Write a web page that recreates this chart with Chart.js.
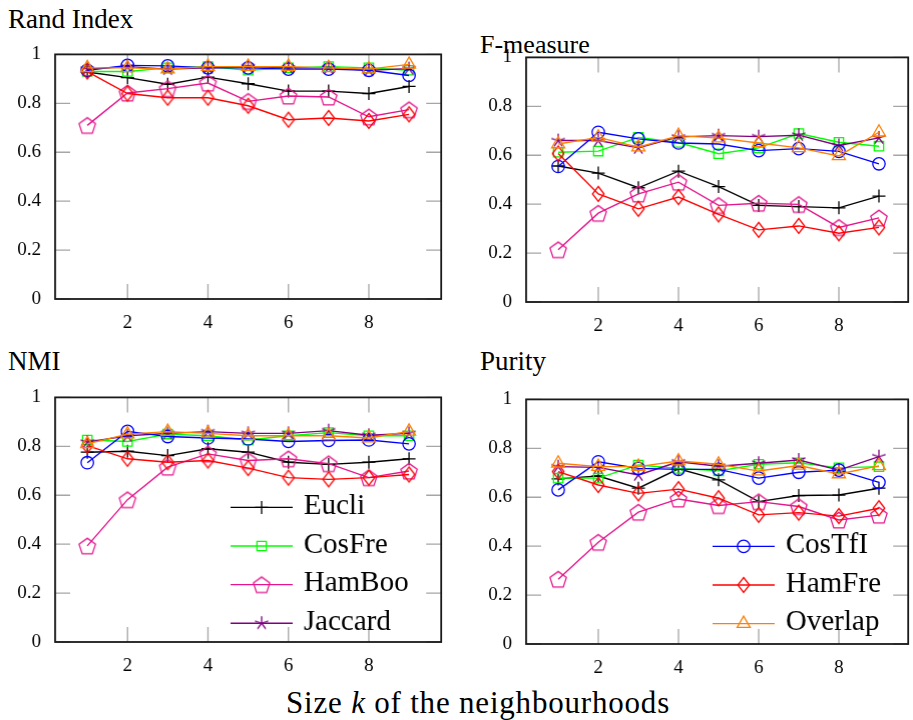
<!DOCTYPE html>
<html>
<head>
<meta charset="utf-8">
<script src="https://cdn.jsdelivr.net/npm/chart.js@4.4.0/dist/chart.umd.min.js"></script>
<style>
  html, body { margin: 0; padding: 0; background: #fff; width: 913px; height: 720px; overflow: hidden; position: relative; }
  canvas { position: absolute; }
  .lbl { position: absolute; font-family: 'Liberation Serif', serif; color: #000; line-height: 1; white-space: nowrap; }
</style>
</head>
<body>
<div class="lbl" style="left:8px; top:6px; font-size:27px">Rand Index</div>
<div class="lbl" style="left:480px; top:32px; font-size:26px">F-measure</div>
<div class="lbl" style="left:8px; top:348px; font-size:27px">NMI</div>
<div class="lbl" style="left:480px; top:348px; font-size:27px">Purity</div>
<div class="lbl" style="left:0; width:956px; text-align:center; top:687px; font-size:31px; letter-spacing:0.8px">Size <i>k</i> of the neighbourhoods</div>

<script>
// neighbourhood sizes and axis ticks
const kValues = [1, 2, 3, 4, 5, 6, 7, 8, 9];
const xTicks = [2, 4, 6, 8];
const yTicks = [0, 0.2, 0.4, 0.6, 0.8, 1];

const seriesNames = ['Eucli', 'CosFre', 'HamBoo', 'Jaccard', 'CosTfI', 'HamFre', 'Overlap'];
const seriesColors = ['#000000', '#00ff00', '#e4168c', '#800080', '#0000ff', '#ff0000', '#ff8000'];

// rows follow seriesNames
const randIndex = [
  [0.928, 0.905, 0.878, 0.907, 0.880, 0.850, 0.850, 0.840, 0.869],
  [0.930, 0.930, 0.945, 0.950, 0.935, 0.945, 0.950, 0.945, 0.935],
  [0.710, 0.842, 0.860, 0.883, 0.808, 0.830, 0.826, 0.745, 0.774],
  [0.940, 0.950, 0.940, 0.945, 0.950, 0.945, 0.945, 0.935, 0.942],
  [0.935, 0.955, 0.953, 0.945, 0.945, 0.940, 0.940, 0.935, 0.914],
  [0.930, 0.840, 0.823, 0.823, 0.790, 0.733, 0.740, 0.728, 0.755],
  [0.945, 0.945, 0.940, 0.950, 0.950, 0.950, 0.945, 0.940, 0.959]
];
const fMeasure = [
  [0.556, 0.527, 0.467, 0.535, 0.472, 0.395, 0.390, 0.385, 0.433],
  [0.612, 0.617, 0.673, 0.652, 0.606, 0.630, 0.689, 0.653, 0.637],
  [0.214, 0.363, 0.442, 0.490, 0.395, 0.404, 0.399, 0.305, 0.344],
  [0.660, 0.660, 0.630, 0.675, 0.680, 0.676, 0.682, 0.640, 0.671],
  [0.554, 0.694, 0.667, 0.650, 0.646, 0.619, 0.627, 0.616, 0.565],
  [0.607, 0.442, 0.381, 0.429, 0.358, 0.295, 0.311, 0.281, 0.305],
  [0.646, 0.673, 0.633, 0.680, 0.670, 0.650, 0.630, 0.597, 0.694]
];
const nmi = [
  [0.776, 0.780, 0.762, 0.790, 0.776, 0.735, 0.726, 0.735, 0.749],
  [0.826, 0.820, 0.850, 0.843, 0.826, 0.843, 0.856, 0.843, 0.843],
  [0.393, 0.582, 0.715, 0.769, 0.742, 0.749, 0.729, 0.672, 0.699],
  [0.817, 0.843, 0.853, 0.860, 0.853, 0.853, 0.864, 0.845, 0.853],
  [0.733, 0.861, 0.840, 0.834, 0.830, 0.820, 0.824, 0.826, 0.810],
  [0.803, 0.749, 0.735, 0.742, 0.711, 0.672, 0.665, 0.672, 0.685],
  [0.810, 0.850, 0.860, 0.853, 0.843, 0.843, 0.843, 0.834, 0.861]
];
const purity = [
  [0.675, 0.687, 0.637, 0.716, 0.671, 0.582, 0.607, 0.609, 0.637],
  [0.678, 0.678, 0.732, 0.718, 0.708, 0.735, 0.741, 0.720, 0.725],
  [0.265, 0.416, 0.539, 0.593, 0.566, 0.582, 0.562, 0.507, 0.527],
  [0.725, 0.722, 0.691, 0.745, 0.727, 0.739, 0.752, 0.711, 0.766],
  [0.630, 0.745, 0.718, 0.714, 0.714, 0.678, 0.702, 0.711, 0.661],
  [0.705, 0.650, 0.616, 0.633, 0.596, 0.528, 0.537, 0.523, 0.555],
  [0.739, 0.725, 0.725, 0.748, 0.735, 0.707, 0.730, 0.695, 0.728]
];

const FONT = "Liberation Serif";

// custom marks that Chart.js does not have
function makeMark(size, draw) {
  const c = document.createElement('canvas');
  c.width = size; c.height = size;
  const g = c.getContext('2d');
  g.lineWidth = 1.3;
  g.lineJoin = 'miter';
  draw(g, size / 2);
  return c;
}
const pentagon = makeMark(22, (g, m) => {
  g.strokeStyle = seriesColors[2];
  g.beginPath();
  for (let i = 0; i < 5; i++) {
    const a = -Math.PI / 2 + i * 2 * Math.PI / 5;
    const px = m + 8.6 * Math.cos(a), py = m + 1 + 8.6 * Math.sin(a);
    i ? g.lineTo(px, py) : g.moveTo(px, py);
  }
  g.closePath();
  g.stroke();
});
const star = makeMark(18, (g, m) => {
  g.strokeStyle = seriesColors[3];
  g.beginPath();
  for (let i = 0; i < 5; i++) {
    const a = -Math.PI / 2 + i * 2 * Math.PI / 5;
    g.moveTo(m, m);
    g.lineTo(m + 7 * Math.cos(a), m + 7 * Math.sin(a));
  }
  g.stroke();
});
const diamond = makeMark(20, (g, m) => {
  g.strokeStyle = seriesColors[5];
  g.beginPath();
  g.moveTo(m, m - 7.5);
  g.lineTo(m + 5.8, m);
  g.lineTo(m, m + 7.5);
  g.lineTo(m - 5.8, m);
  g.closePath();
  g.stroke();
});

const markStyles = ['cross', 'rect', pentagon, star, 'circle', diamond, 'triangle'];
const markRadius = [6.5, 6.6, 6, 6, 6.2, 6, 7.5];

// inward tick marks and black frame
const framePlugin = {
  id: 'frame',
  beforeDatasetsDraw(chart) {
    const { ctx, chartArea: a } = chart;
    const x = chart.scales.x, y = chart.scales.y;
    const len = 15;
    ctx.save();
    ctx.strokeStyle = '#a6a6a6';
    ctx.lineWidth = 1.3;
    ctx.beginPath();
    xTicks.forEach(v => {
      const px = x.getPixelForValue(v);
      ctx.moveTo(px, a.bottom); ctx.lineTo(px, a.bottom - len);
      ctx.moveTo(px, a.top); ctx.lineTo(px, a.top + len);
    });
    yTicks.forEach(v => {
      const py = y.getPixelForValue(v);
      ctx.moveTo(a.left, py); ctx.lineTo(a.left + len, py);
      ctx.moveTo(a.right, py); ctx.lineTo(a.right - len, py);
    });
    ctx.stroke();
    ctx.strokeStyle = '#1a1a1a';
    ctx.lineWidth = 1.8;
    ctx.strokeRect(a.left, a.top, a.right - a.left, a.bottom - a.top);
    ctx.restore();
  }
};

// legend without box, placed inside the plot area
const legendPlugin = {
  id: 'lineLegend',
  afterDatasetsDraw(chart, args, opts) {
    if (!opts || !opts.items) return;
    const { ctx, chartArea: a } = chart;
    ctx.save();
    opts.items.forEach((di, row) => {
      const ds = chart.data.datasets[di];
      const x0 = a.left + opts.x;
      const y0 = a.top + opts.y + row * opts.gap;
      ctx.strokeStyle = ds.borderColor;
      ctx.lineWidth = ds.borderWidth;
      ctx.beginPath();
      ctx.moveTo(x0, y0); ctx.lineTo(x0 + 62, y0);
      ctx.stroke();
      ctx.fillStyle = 'rgba(0,0,0,0)';
      ctx.lineWidth = ds.pointBorderWidth;
      Chart.helpers.drawPoint(ctx, {
        pointStyle: ds.pointStyle, radius: ds.pointRadius, rotation: 0, borderWidth: ds.pointBorderWidth
      }, x0 + 31, y0);
      ctx.fillStyle = '#000';
      ctx.font = '29px "' + FONT + '"';
      ctx.textAlign = 'left';
      ctx.textBaseline = 'middle';
      ctx.fillText(ds.label, x0 + 73, y0 - 1);
    });
    ctx.restore();
  }
};

function chartConfig(values, box, legend) {
  const datasets = seriesNames.map((name, i) => ({
    label: name,
    data: kValues.map((k, j) => ({ x: k, y: values[i][j] })),
    borderColor: seriesColors[i],
    backgroundColor: 'rgba(0,0,0,0)',
    borderWidth: 1.4,
    pointStyle: markStyles[i],
    pointRadius: markRadius[i],
    pointBorderColor: seriesColors[i],
    pointBackgroundColor: 'rgba(0,0,0,0)',
    pointBorderWidth: 1.3,
    tension: 0,
    clip: false,
    order: seriesNames.length - i
  }));
  return {
    type: 'line',
    data: { datasets },
    options: {
      responsive: false,
      maintainAspectRatio: false,
      animation: false,
      events: [],
      layout: { padding: { left: 0, top: 12, right: 8, bottom: 0 } },
      scales: {
        x: {
          type: 'linear', min: 0.2, max: box.xMax,
          grid: { display: false, drawTicks: false },
          border: { display: false },
          afterBuildTicks: s => { s.ticks = xTicks.map(v => ({ value: v })); },
          afterFit: s => { s.height = 42; },
          ticks: { color: '#000', font: { family: FONT, size: 19 }, padding: 13, maxRotation: 0, callback: v => String(v) }
        },
        y: {
          type: 'linear', min: 0, max: 1,
          grid: { display: false, drawTicks: false },
          border: { display: false },
          afterBuildTicks: s => { s.ticks = yTicks.map(v => ({ value: v })); },
          afterFit: s => { s.width = 55; },
          ticks: { color: '#000', font: { family: FONT, size: 19 }, padding: 14, callback: v => String(v) }
        }
      },
      plugins: {
        legend: { display: false },
        tooltip: { enabled: false },
        lineLegend: legend || {}
      }
    },
    plugins: [framePlugin, legendPlugin]
  };
}

function makePanel(values, box, legend) {
  const cv = document.createElement('canvas');
  document.body.appendChild(cv);
  let w = box.R - box.L + 63, h = box.B - box.T + 54;
  cv.width = w; cv.height = h;
  let chart = new Chart(cv, chartConfig(values, box, legend));
  // make the plot area exactly the wanted size, then place the canvas
  let a = chart.chartArea;
  const dw = (box.R - box.L) - (a.right - a.left);
  const dh = (box.B - box.T) - (a.bottom - a.top);
  if (dw || dh) {
    chart.destroy();
    w += dw; h += dh;
    cv.width = w; cv.height = h;
    chart = new Chart(cv, chartConfig(values, box, legend));
    a = chart.chartArea;
  }
  cv.style.width = w + 'px'; cv.style.height = h + 'px';
  cv.style.left = (box.L - a.left) + 'px';
  cv.style.top = (box.T - a.top) + 'px';
}

function drawAll() {
  makePanel(randIndex, { L: 55, T: 54, R: 441, B: 299, xMax: 9.8 });
  makePanel(fMeasure, { L: 526, T: 57, R: 908, B: 302, xMax: 9.73 });
  makePanel(nmi, { L: 55, T: 397, R: 441, B: 642, xMax: 9.8 },
    { items: [0, 1, 2, 3], x: 175, y: 110, gap: 38.6 });
  makePanel(purity, { L: 526, T: 399, R: 908, B: 644, xMax: 9.73 },
    { items: [4, 5, 6], x: 186, y: 147, gap: 38.6 });
}

document.fonts.load('19px "Liberation Serif"').then(drawAll, drawAll);
</script>
</body>
</html>
